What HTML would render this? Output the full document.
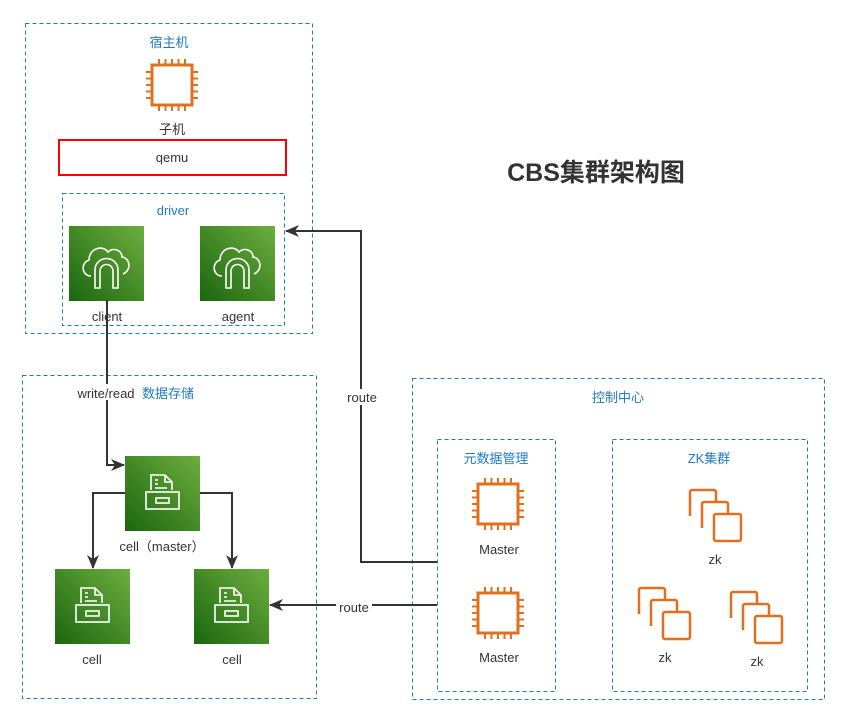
<!DOCTYPE html>
<html><head><meta charset="utf-8"><style>
html,body{margin:0;padding:0;background:#fff;}
svg{display:block;font-family:"Liberation Sans","Noto Sans CJK SC",sans-serif;}
</style></head><body>
<svg width="848" height="718" viewBox="0 0 848 718" xmlns="http://www.w3.org/2000/svg">
<defs>
<linearGradient id="g" x1="0" y1="1" x2="1" y2="0">
<stop offset="0" stop-color="#1b660f"/><stop offset="1" stop-color="#6cae3e"/>
</linearGradient>
<g id="chip" fill="none" stroke="#e0701e" stroke-width="3">
<rect x="-20" y="-20" width="40" height="40"/>
<path d="M-13-20v-6M-6.5-20v-6M0-20v-6M6.5-20v-6M13-20v-6M-13 20v6M-6.5 20v6M0 20v6M6.5 20v6M13 20v6M-20-13h-6M-20-6.5h-6M-20 0h-6M-20 6.5h-6M-20 13h-6M20-13h6M20-6.5h6M20 0h6M20 6.5h6M20 13h6" stroke-width="2"/>
</g>
<g id="zk" fill="#fff" stroke="#e0701e" stroke-width="2.5">
<path d="M0 26V2a2 2 0 0 1 2-2h22a2 2 0 0 1 2 2v10"/>
<path d="M12 38V14a2 2 0 0 1 2-2h22a2 2 0 0 1 2 2v10"/>
<rect x="24" y="24" width="27" height="27" rx="2"/>
</g>
<g id="gw">
<rect width="75" height="75" fill="url(#g)"/>
<g fill="none" stroke="#fff" stroke-width="1.6">
<path d="M22 50c-9 0-11-13-2-16c0-11 13-16 19-8c5-5 14-2 14 5c8 1 10 13 1 17"/>
<path d="M26 62V44a11.5 11.5 0 0 1 23 0v18h-5V45a6.5 6.5 0 0 0-13 0v17z"/>
</g></g>
<g id="cell">
<rect width="75" height="75" fill="url(#g)"/>
<g fill="none" stroke="#fff" stroke-width="1.6">
<path d="M26 34V19h14l7 7v8"/>
<path d="M40 19v7h7"/>
<path d="M30 24h3M30 28h3M30 32h12"/>
<rect x="21" y="36" width="33" height="17"/>
<rect x="31" y="42" width="13" height="5"/>
</g></g>
<marker id="ar" markerWidth="14" markerHeight="12" refX="13" refY="6" orient="auto" markerUnits="userSpaceOnUse"><path d="M0 0L14 6L0 12L4 6z" fill="#333"/></marker>
</defs>
<g fill="none" stroke="#1f7ac2" stroke-dasharray="4 3" stroke-width="1">
<rect x="25.5" y="23.5" width="287" height="310"/>
<rect x="62.5" y="193.5" width="222" height="132"/>
<rect x="22.5" y="375.5" width="294" height="323"/>
<rect x="412.5" y="378.5" width="412" height="321"/>
<rect x="437.5" y="439.5" width="118" height="252"/>
<rect x="612.5" y="439.5" width="195" height="252"/>
</g>
<rect x="59" y="140" width="227" height="35" fill="none" stroke="#f00" stroke-width="2"/>
<g font-size="13" fill="#1f7ac2" text-anchor="middle">
<text x="169" y="47">宿主机</text>
<text x="173" y="215">driver</text>
<text x="618" y="402">控制中心</text>
<text x="496" y="463">元数据管理</text>
<text x="709" y="463">ZK集群</text>
</g>
<text x="596" y="181" font-size="25" font-weight="bold" fill="#333" text-anchor="middle">CBS集群架构图</text>
<use href="#chip" x="172" y="85"/>
<use href="#chip" x="498" y="504"/>
<use href="#chip" x="498" y="613"/>
<use href="#zk" x="690" y="490"/>
<use href="#zk" x="639" y="588"/>
<use href="#zk" x="731" y="592"/>
<use href="#gw" x="69" y="226"/>
<use href="#gw" x="200" y="226"/>
<use href="#cell" x="125" y="456"/>
<use href="#cell" x="55" y="569"/>
<use href="#cell" x="194" y="569"/>
<g fill="none" stroke="#333" stroke-width="2">
<path d="M107 300V465H124" marker-end="url(#ar)"/>
<path d="M125 493H93V568" marker-end="url(#ar)"/>
<path d="M200 493H232V568" marker-end="url(#ar)"/>
<path d="M437 605H270" marker-end="url(#ar)"/>
<path d="M437 562H361V231H286" marker-end="url(#ar)"/>
</g>
<rect x="74" y="384" width="68" height="16" fill="#fff"/>
<rect x="344" y="389" width="36" height="16" fill="#fff"/>
<rect x="336" y="599" width="36" height="16" fill="#fff"/>
<g font-size="13" fill="#333" text-anchor="middle">
<text x="172" y="134">子机</text>
<text x="172" y="162">qemu</text>
<text x="107" y="321">client</text>
<text x="238" y="321">agent</text>
<text x="106" y="398">write/read</text>
<text x="362" y="402">route</text>
<text x="354" y="612">route</text>
<text x="162" y="551">cell（master）</text>
<text x="92" y="664">cell</text>
<text x="232" y="664">cell</text>
<text x="499" y="554">Master</text>
<text x="499" y="662">Master</text>
<text x="715" y="564">zk</text>
<text x="665" y="662">zk</text>
<text x="757" y="666">zk</text>
</g>
<text x="142" y="398" font-size="13" fill="#1f7ac2">数据存储</text>
</svg>
</body></html>
